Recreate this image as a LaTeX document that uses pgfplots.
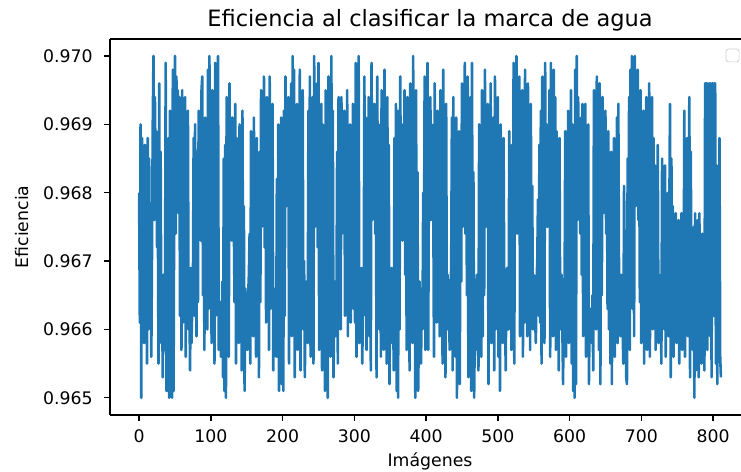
\documentclass[border=0pt]{standalone}
\usepackage{fontspec}
\setmainfont{DejaVu Sans}
\usepackage{pgfplots}
\usepackage{pgfplotstable}
\pgfplotsset{compat=1.18}
\definecolor{mplblue}{HTML}{1F77B4}
\pgfplotstableread[row sep=\\, header=false]{
0.9680\\ 0.9661\\ 0.9690\\ 0.9650\\ 0.9688\\ 0.9662\\ 0.9676\\ 0.9658\\ 0.9687\\ 0.9667\\ 0.9670\\ 0.9655\\ 0.9688\\ 0.9660\\ 0.9685\\ 0.9664\\ 0.9678\\ 0.9656\\ 0.9672\\ 0.9690\\
0.9700\\ 0.9676\\ 0.9694\\ 0.9683\\ 0.9689\\ 0.9672\\ 0.9680\\ 0.9655\\ 0.9696\\ 0.9663\\ 0.9686\\ 0.9658\\ 0.9664\\ 0.9653\\ 0.9668\\ 0.9657\\ 0.9660\\ 0.9699\\ 0.9651\\ 0.9684\\
0.9651\\ 0.9688\\ 0.9650\\ 0.9692\\ 0.9652\\ 0.9676\\ 0.9650\\ 0.9698\\ 0.9651\\ 0.9683\\ 0.9700\\ 0.9674\\ 0.9697\\ 0.9681\\ 0.9695\\ 0.9677\\ 0.9694\\ 0.9662\\ 0.9680\\ 0.9657\\
0.9695\\ 0.9661\\ 0.9693\\ 0.9668\\ 0.9694\\ 0.9656\\ 0.9688\\ 0.9672\\ 0.9692\\ 0.9660\\ 0.9665\\ 0.9654\\ 0.9669\\ 0.9658\\ 0.9663\\ 0.9666\\ 0.9688\\ 0.9662\\ 0.9690\\ 0.9670\\
0.9659\\ 0.9686\\ 0.9664\\ 0.9692\\ 0.9678\\ 0.9689\\ 0.9673\\ 0.9695\\ 0.9697\\ 0.9665\\ 0.9684\\ 0.9657\\ 0.9691\\ 0.9668\\ 0.9678\\ 0.9660\\ 0.9698\\ 0.9663\\ 0.9700\\ 0.9666\\
0.9690\\ 0.9658\\ 0.9695\\ 0.9669\\ 0.9687\\ 0.9655\\ 0.9699\\ 0.9662\\ 0.9683\\ 0.9670\\ 0.9700\\ 0.9657\\ 0.9661\\ 0.9664\\ 0.9656\\ 0.9660\\ 0.9667\\ 0.9653\\ 0.9685\\ 0.9651\\
0.9687\\ 0.9650\\ 0.9694\\ 0.9662\\ 0.9680\\ 0.9656\\ 0.9696\\ 0.9678\\ 0.9684\\ 0.9673\\ 0.9691\\ 0.9679\\ 0.9676\\ 0.9664\\ 0.9693\\ 0.9655\\ 0.9688\\ 0.9669\\ 0.9682\\ 0.9658\\
0.9690\\ 0.9661\\ 0.9685\\ 0.9654\\ 0.9692\\ 0.9666\\ 0.9678\\ 0.9651\\ 0.9666\\ 0.9663\\ 0.9658\\ 0.9657\\ 0.9665\\ 0.9668\\ 0.9674\\ 0.9655\\ 0.9689\\ 0.9662\\ 0.9683\\ 0.9659\\
0.9691\\ 0.9662\\ 0.9683\\ 0.9656\\ 0.9688\\ 0.9670\\ 0.9679\\ 0.9653\\ 0.9686\\ 0.9664\\ 0.9695\\ 0.9675\\ 0.9690\\ 0.9679\\ 0.9697\\ 0.9672\\ 0.9689\\ 0.9661\\ 0.9694\\ 0.9665\\
0.9684\\ 0.9657\\ 0.9697\\ 0.9663\\ 0.9680\\ 0.9669\\ 0.9693\\ 0.9654\\ 0.9662\\ 0.9660\\ 0.9666\\ 0.9656\\ 0.9682\\ 0.9656\\ 0.9690\\ 0.9651\\ 0.9686\\ 0.9664\\ 0.9691\\ 0.9652\\
0.9679\\ 0.9651\\ 0.9692\\ 0.9662\\ 0.9697\\ 0.9678\\ 0.9687\\ 0.9680\\ 0.9694\\ 0.9655\\ 0.9683\\ 0.9663\\ 0.9696\\ 0.9659\\ 0.9700\\ 0.9666\\ 0.9698\\ 0.9653\\ 0.9689\\ 0.9661\\
0.9693\\ 0.9657\\ 0.9686\\ 0.9668\\ 0.9698\\ 0.9654\\ 0.9681\\ 0.9664\\ 0.9695\\ 0.9660\\ 0.9670\\ 0.9653\\ 0.9664\\ 0.9667\\ 0.9659\\ 0.9658\\ 0.9692\\ 0.9662\\ 0.9697\\ 0.9656\\
0.9688\\ 0.9660\\ 0.9694\\ 0.9655\\ 0.9700\\ 0.9675\\ 0.9684\\ 0.9679\\ 0.9696\\ 0.9672\\ 0.9699\\ 0.9657\\ 0.9687\\ 0.9669\\ 0.9693\\ 0.9654\\ 0.9690\\ 0.9663\\ 0.9682\\ 0.9651\\
0.9695\\ 0.9658\\ 0.9689\\ 0.9650\\ 0.9697\\ 0.9664\\ 0.9685\\ 0.9656\\ 0.9700\\ 0.9661\\ 0.9692\\ 0.9653\\ 0.9664\\ 0.9667\\ 0.9659\\ 0.9662\\ 0.9686\\ 0.9655\\ 0.9694\\ 0.9663\\
0.9688\\ 0.9660\\ 0.9694\\ 0.9674\\ 0.9683\\ 0.9677\\ 0.9692\\ 0.9662\\ 0.9678\\ 0.9669\\ 0.9695\\ 0.9659\\ 0.9686\\ 0.9664\\ 0.9690\\ 0.9661\\ 0.9681\\ 0.9668\\ 0.9693\\ 0.9663\\
0.9685\\ 0.9661\\ 0.9699\\ 0.9656\\ 0.9690\\ 0.9667\\ 0.9700\\ 0.9658\\ 0.9661\\ 0.9664\\ 0.9669\\ 0.9655\\ 0.9663\\ 0.9662\\ 0.9697\\ 0.9670\\ 0.9691\\ 0.9657\\ 0.9688\\ 0.9663\\
0.9694\\ 0.9659\\ 0.9680\\ 0.9654\\ 0.9699\\ 0.9676\\ 0.9689\\ 0.9681\\ 0.9693\\ 0.9674\\ 0.9684\\ 0.9653\\ 0.9697\\ 0.9668\\ 0.9690\\ 0.9660\\ 0.9686\\ 0.9656\\ 0.9695\\ 0.9664\\
0.9689\\ 0.9657\\ 0.9698\\ 0.9663\\ 0.9681\\ 0.9655\\ 0.9694\\ 0.9667\\ 0.9687\\ 0.9652\\ 0.9666\\ 0.9661\\ 0.9669\\ 0.9658\\ 0.9663\\ 0.9654\\ 0.9688\\ 0.9666\\ 0.9693\\ 0.9651\\
0.9686\\ 0.9650\\ 0.9692\\ 0.9660\\ 0.9697\\ 0.9677\\ 0.9684\\ 0.9673\\ 0.9690\\ 0.9678\\ 0.9695\\ 0.9668\\ 0.9680\\ 0.9657\\ 0.9694\\ 0.9661\\ 0.9688\\ 0.9654\\ 0.9696\\ 0.9665\\
0.9691\\ 0.9658\\ 0.9700\\ 0.9664\\ 0.9687\\ 0.9650\\ 0.9695\\ 0.9662\\ 0.9683\\ 0.9651\\ 0.9660\\ 0.9667\\ 0.9658\\ 0.9655\\ 0.9666\\ 0.9660\\ 0.9680\\ 0.9669\\ 0.9697\\ 0.9657\\
0.9688\\ 0.9663\\ 0.9699\\ 0.9657\\ 0.9684\\ 0.9679\\ 0.9694\\ 0.9676\\ 0.9690\\ 0.9681\\ 0.9681\\ 0.9656\\ 0.9696\\ 0.9664\\ 0.9686\\ 0.9661\\ 0.9692\\ 0.9670\\ 0.9685\\ 0.9659\\
0.9695\\ 0.9662\\ 0.9689\\ 0.9655\\ 0.9698\\ 0.9667\\ 0.9683\\ 0.9653\\ 0.9693\\ 0.9660\\ 0.9668\\ 0.9664\\ 0.9661\\ 0.9657\\ 0.9666\\ 0.9669\\ 0.9691\\ 0.9654\\ 0.9694\\ 0.9661\\
0.9682\\ 0.9656\\ 0.9691\\ 0.9650\\ 0.9678\\ 0.9663\\ 0.9689\\ 0.9652\\ 0.9686\\ 0.9667\\ 0.9696\\ 0.9675\\ 0.9690\\ 0.9680\\ 0.9699\\ 0.9674\\ 0.9684\\ 0.9665\\ 0.9697\\ 0.9653\\
0.9688\\ 0.9660\\ 0.9694\\ 0.9651\\ 0.9699\\ 0.9664\\ 0.9683\\ 0.9650\\ 0.9660\\ 0.9657\\ 0.9666\\ 0.9668\\ 0.9658\\ 0.9654\\ 0.9690\\ 0.9662\\ 0.9681\\ 0.9656\\ 0.9695\\ 0.9659\\
0.9687\\ 0.9665\\ 0.9698\\ 0.9675\\ 0.9684\\ 0.9678\\ 0.9693\\ 0.9652\\ 0.9689\\ 0.9667\\ 0.9696\\ 0.9658\\ 0.9682\\ 0.9663\\ 0.9691\\ 0.9654\\ 0.9697\\ 0.9660\\ 0.9686\\ 0.9668\\
0.9694\\ 0.9656\\ 0.9685\\ 0.9651\\ 0.9690\\ 0.9663\\ 0.9680\\ 0.9658\\ 0.9688\\ 0.9666\\ 0.9664\\ 0.9654\\ 0.9668\\ 0.9669\\ 0.9660\\ 0.9660\\ 0.9689\\ 0.9664\\ 0.9679\\ 0.9657\\
0.9687\\ 0.9662\\ 0.9699\\ 0.9655\\ 0.9693\\ 0.9678\\ 0.9700\\ 0.9674\\ 0.9688\\ 0.9680\\ 0.9697\\ 0.9659\\ 0.9684\\ 0.9666\\ 0.9695\\ 0.9656\\ 0.9690\\ 0.9661\\ 0.9698\\ 0.9663\\
0.9685\\ 0.9659\\ 0.9696\\ 0.9664\\ 0.9689\\ 0.9657\\ 0.9693\\ 0.9669\\ 0.9681\\ 0.9660\\ 0.9668\\ 0.9666\\ 0.9662\\ 0.9658\\ 0.9667\\ 0.9670\\ 0.9679\\ 0.9662\\ 0.9687\\ 0.9661\\
0.9692\\ 0.9655\\ 0.9697\\ 0.9663\\ 0.9686\\ 0.9658\\ 0.9699\\ 0.9677\\ 0.9690\\ 0.9675\\ 0.9684\\ 0.9681\\ 0.9695\\ 0.9656\\ 0.9699\\ 0.9664\\ 0.9688\\ 0.9659\\ 0.9698\\ 0.9662\\
0.9694\\ 0.9657\\ 0.9689\\ 0.9665\\ 0.9680\\ 0.9654\\ 0.9688\\ 0.9660\\ 0.9665\\ 0.9668\\ 0.9660\\ 0.9652\\ 0.9667\\ 0.9663\\ 0.9689\\ 0.9656\\ 0.9679\\ 0.9661\\ 0.9692\\ 0.9658\\
0.9687\\ 0.9664\\ 0.9695\\ 0.9655\\ 0.9690\\ 0.9651\\ 0.9683\\ 0.9650\\ 0.9698\\ 0.9652\\ 0.9700\\ 0.9676\\ 0.9694\\ 0.9682\\ 0.9685\\ 0.9674\\ 0.9691\\ 0.9668\\ 0.9693\\ 0.9659\\
0.9686\\ 0.9661\\ 0.9693\\ 0.9656\\ 0.9681\\ 0.9666\\ 0.9690\\ 0.9652\\ 0.9662\\ 0.9663\\ 0.9659\\ 0.9658\\ 0.9665\\ 0.9654\\ 0.9695\\ 0.9664\\ 0.9694\\ 0.9660\\ 0.9697\\ 0.9667\\
0.9690\\ 0.9657\\ 0.9696\\ 0.9652\\ 0.9687\\ 0.9665\\ 0.9694\\ 0.9677\\ 0.9683\\ 0.9679\\ 0.9692\\ 0.9674\\ 0.9685\\ 0.9663\\ 0.9689\\ 0.9660\\ 0.9681\\ 0.9655\\ 0.9686\\ 0.9652\\
0.9682\\ 0.9661\\ 0.9688\\ 0.9656\\ 0.9679\\ 0.9664\\ 0.9691\\ 0.9658\\ 0.9693\\ 0.9667\\ 0.9664\\ 0.9659\\ 0.9668\\ 0.9663\\ 0.9660\\ 0.9655\\ 0.9681\\ 0.9669\\ 0.9674\\ 0.9653\\
0.9652\\ 0.9685\\ 0.9660\\ 0.9694\\ 0.9657\\ 0.9698\\ 0.9666\\ 0.9700\\ 0.9663\\ 0.9696\\ 0.9659\\ 0.9700\\ 0.9678\\ 0.9693\\ 0.9680\\ 0.9698\\ 0.9676\\ 0.9690\\ 0.9664\\ 0.9695\\
0.9658\\ 0.9689\\ 0.9666\\ 0.9692\\ 0.9655\\ 0.9686\\ 0.9670\\ 0.9694\\ 0.9657\\ 0.9683\\ 0.9662\\ 0.9696\\ 0.9656\\ 0.9690\\ 0.9668\\ 0.9694\\ 0.9660\\ 0.9688\\ 0.9665\\ 0.9684\\
0.9657\\ 0.9681\\ 0.9663\\ 0.9687\\ 0.9658\\ 0.9664\\ 0.9661\\ 0.9668\\ 0.9655\\ 0.9685\\ 0.9669\\ 0.9678\\ 0.9660\\ 0.9684\\ 0.9656\\ 0.9672\\ 0.9664\\ 0.9680\\ 0.9659\\ 0.9675\\
0.9693\\ 0.9653\\ 0.9685\\ 0.9662\\ 0.9678\\ 0.9656\\ 0.9674\\ 0.9667\\ 0.9677\\ 0.9658\\ 0.9670\\ 0.9664\\ 0.9676\\ 0.9655\\ 0.9672\\ 0.9661\\ 0.9677\\ 0.9657\\ 0.9669\\ 0.9663\\
0.9692\\ 0.9656\\ 0.9684\\ 0.9664\\ 0.9688\\ 0.9659\\ 0.9678\\ 0.9694\\ 0.9653\\ 0.9686\\ 0.9662\\ 0.9671\\ 0.9657\\ 0.9675\\ 0.9650\\ 0.9677\\ 0.9654\\ 0.9672\\ 0.9660\\ 0.9676\\
0.9653\\ 0.9677\\ 0.9658\\ 0.9668\\ 0.9655\\ 0.9674\\ 0.9661\\ 0.9670\\ 0.9654\\ 0.9696\\ 0.9696\\ 0.9696\\ 0.9657\\ 0.9696\\ 0.9664\\ 0.9696\\ 0.9659\\ 0.9696\\ 0.9653\\ 0.9696\\
0.9696\\ 0.9662\\ 0.9696\\ 0.9696\\ 0.9655\\ 0.9684\\ 0.9652\\ 0.9670\\ 0.9658\\ 0.9688\\ 0.9656\\ 0.9653\\
}\effdata

\begin{document}
\begin{tikzpicture}
\begin{axis}[
  name=ax,
  scale only axis,
  width=369.9pt, height=217.3pt,
  xmin=-40.55, xmax=851.55,
  ymin=0.96475, ymax=0.97025,
  axis y line*=left,
  xtick={0,100,200,300,400,500,600,700,800},
  xticklabels={0,100,200,300,400,500,600,700,800},
  ytick={0.965,0.966,0.967,0.968,0.969,0.970},
  yticklabels={0.965,0.966,0.967,0.968,0.969,0.970},
  tick align=outside, tick pos=left,
  major tick length=3.5pt,
  tick style={black, line width=0.8pt},
  axis line style={black, line width=0.8pt},
  ticklabel style={font=\fontsize{10}{12}\selectfont, inner sep=0pt},
  xticklabel style={anchor=base, yshift=-12.7pt},
  yticklabel style={anchor=east, xshift=-6.3pt},
  title={Eficiencia al clasificar la marca de agua},
  title style={font=\fontsize{13}{16}\selectfont, at={(axis description cs:0.5,1)}, anchor=base, yshift=0.9pt, inner sep=0pt},
  xlabel={Imágenes},
  xlabel style={font=\fontsize{10}{12}\selectfont, at={(axis description cs:0.5,0)}, anchor=base, yshift=-30.1pt, inner sep=0pt},
  ylabel={Eficiencia},
  ylabel style={font=\fontsize{10}{12}\selectfont, at={(axis description cs:-0.128,0.5)}, anchor=base, inner sep=0pt},
]
\addplot[mplblue, line width=1.5pt, line join=round, mark=none] table[x expr=\coordindex, y index=0] {\effdata};
\draw[black!20, rounded corners=1.5pt, fill=white, fill opacity=0.8] (rel axis cs:0.9625,0.9734) rectangle (rel axis cs:0.983,0.939);
\end{axis}
\pgfresetboundingbox
\path[use as bounding box] ([shift={(-63.6pt,-32.9pt)}]ax.south west) rectangle ([shift={(364.7pt,22.5pt)}]ax.north west);
\end{tikzpicture}
\end{document}
